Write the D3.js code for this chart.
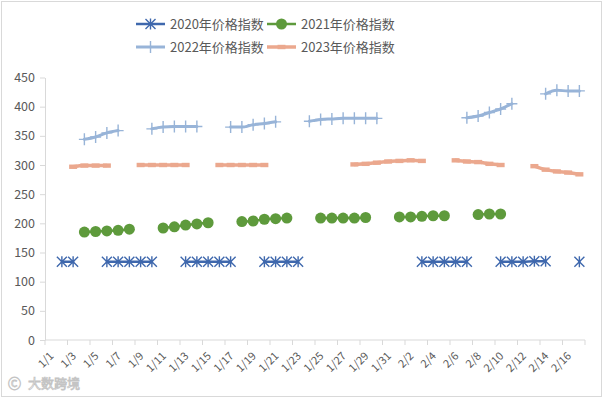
<!DOCTYPE html>
<html>
<head>
<meta charset="utf-8">
<script src="https://cdn.jsdelivr.net/npm/d3@7"></script>
<style>
  body { margin: 0; background: #fff; }
  text { font-family: "Noto Sans CJK SC", "Noto Sans", sans-serif; fill: #595959; }
</style>
</head>
<body>
<div id="chart"></div>
<script>
const categories = [
  "1/1","1/2","1/3","1/4","1/5","1/6","1/7","1/8","1/9","1/10",
  "1/11","1/12","1/13","1/14","1/15","1/16","1/17","1/18","1/19","1/20",
  "1/21","1/22","1/23","1/24","1/25","1/26","1/27","1/28","1/29","1/30",
  "1/31","2/1","2/2","2/3","2/4","2/5","2/6","2/7","2/8","2/9",
  "2/10","2/11","2/12","2/13","2/14","2/15","2/16","2/17"
];

const _ = null;
// 1/1 ... 2/17, null = no trading that day
const idx2020 = [
  _,134,134,_,_,134,134,134,134,134,
  _,_,134,134,134,134,134,_,_,134,
  134,134,134,_,_,_,_,_,_,_,
  _,_,_,134,134,134,134,134,_,_,
  134,134,134,135,135,_,_,134
];
const idx2021 = [
  _,_,_,185,186,187,188,190,_,_,
  192,194,197,199,201,_,_,203,204,207,
  208,209,_,_,209,209,209,209,210,_,
  _,211,211,212,213,213,_,_,215,216,
  216,_,_,_,_,_,_,_
];
const idx2022 = [
  _,_,_,344,348,355,359,_,_,362,
  365,366,366,366,_,_,365,365,369,371,
  374,_,_,375,378,379,380,380,380,380,
  _,_,_,_,_,_,_,381,384,390,
  396,405,_,_,422,428,427,427
];
const idx2023 = [
  _,_,297,299,299,299,_,_,300,300,
  300,300,300,_,_,300,300,300,300,300,
  _,_,_,_,_,_,_,301,302,304,
  306,307,308,307,_,_,308,306,305,302,
  300,_,_,298,292,289,287,284
];
const yTicks = [0, 50, 100, 150, 200, 250, 300, 350, 400, 450];

const series = [
  { name: "2020年价格指数", values: idx2020, color: "#3f68ad", width: 2.5, marker: "star" },
  { name: "2021年价格指数", values: idx2021, color: "#5e9a3c", width: 2.5, marker: "circle" },
  { name: "2022年价格指数", values: idx2022, color: "#98b4d8", width: 3, marker: "plus" },
  { name: "2023年价格指数", values: idx2023, color: "#eba88e", width: 3.5, marker: "dash" }
];

const width = 603, height = 398;
const margin = { top: 77.5, right: 18, bottom: 58, left: 45 };

const svg = d3.select("#chart").append("svg")
  .attr("width", width)
  .attr("height", height);

svg.append("rect")
  .attr("x", 1.5).attr("y", 1.5)
  .attr("width", 600).attr("height", 395)
  .attr("fill", "#fff")
  .attr("stroke", "#d9d9d9");

const x = d3.scaleBand()
  .domain(categories)
  .range([margin.left, width - margin.right])
  .padding(0);
const cx = c => x(c) + x.bandwidth() / 2;

const y = d3.scaleLinear()
  .domain([0, 450])
  .range([height - margin.bottom, margin.top]);

// y axis
const yAxis = svg.append("g")
  .attr("transform", `translate(${margin.left},0)`)
  .call(d3.axisLeft(y).tickValues(yTicks).tickSize(5).tickSizeOuter(0).tickPadding(5));
yAxis.select(".domain").attr("stroke", "#d9d9d9");
yAxis.selectAll(".tick line").attr("stroke", "#d9d9d9");
yAxis.selectAll("text").style("font-size", "12.5px").attr("fill", "#595959");

// x axis: line, ticks between every second category, rotated labels
const xAxis = svg.append("g")
  .attr("transform", `translate(0,${y(0)})`);
xAxis.append("line")
  .attr("x1", margin.left).attr("x2", width - margin.right)
  .attr("stroke", "#d9d9d9");
const tickCats = categories.filter((c, i) => i % 2 === 0);
xAxis.selectAll(".xt")
  .data(tickCats.map(c => x(c)).concat([x.range()[1]]))
  .join("line")
  .attr("x1", d => d).attr("x2", d => d)
  .attr("y1", 0).attr("y2", 5)
  .attr("stroke", "#d9d9d9");
xAxis.selectAll(".xl")
  .data(tickCats)
  .join("text")
  .attr("transform", c => `translate(${cx(c) + 1},${14}) rotate(-45)`)
  .attr("text-anchor", "end")
  .attr("dy", "0.35em")
  .style("font-size", "11px")
  .text(c => c);

// series
const markerPath = {
  star: "M-5,-5L5,5M-5,5L5,-5M0,-5.5L0,5.5",
  plus: "M-5.5,0L5.5,0M0,-6L0,6"
};

function drawMarker(g, s) {
  if (s.marker === "circle") {
    g.append("circle").attr("r", 5.5).attr("fill", s.color);
  } else if (s.marker === "dash") {
    g.append("rect").attr("x", -4).attr("y", -2.2).attr("width", 8).attr("height", 4.4).attr("fill", s.color);
  } else {
    g.append("path").attr("d", markerPath[s.marker])
      .attr("stroke", s.color).attr("stroke-width", 1.4).attr("fill", "none");
  }
}

const line = d3.line()
  .defined(d => d.v != null)
  .x(d => cx(d.c))
  .y(d => y(d.v))
  .curve(d3.curveMonotoneX);

series.forEach(s => {
  const pts = categories.map((c, i) => ({ c: c, v: s.values[i] }));
  const g = svg.append("g");
  g.append("path")
    .datum(pts)
    .attr("d", line)
    .attr("fill", "none")
    .attr("stroke", s.color)
    .attr("stroke-width", s.width)
    .attr("stroke-linecap", "round");
  pts.filter(d => d.v != null).forEach(d => {
    const m = g.append("g").attr("transform", `translate(${cx(d.c)},${y(d.v)})`);
    drawMarker(m, s);
  });
});

// legend
const legendPos = [
  { x: 136, y: 24 }, { x: 267, y: 24 },
  { x: 136, y: 47 }, { x: 267, y: 47 }
];
series.forEach((s, i) => {
  const p = legendPos[i];
  const lg = svg.append("g").attr("transform", `translate(${p.x},${p.y})`);
  lg.append("line")
    .attr("x1", 0).attr("x2", 29)
    .attr("stroke", s.color)
    .attr("stroke-width", s.width);
  drawMarker(lg.append("g").attr("transform", "translate(14.5,0)"), s);
  lg.append("text")
    .attr("x", 34).attr("dy", "0.35em")
    .style("font-size", "13px")
    .text(s.name);
});

// watermark
const wm = svg.append("g").attr("transform", "translate(8,383)");
wm.append("text").attr("x", 0).attr("dy", "0.35em")
  .style("font-size", "13px").style("fill", "#fff")
  .attr("stroke", "#c4c4c4").attr("stroke-width", 0.8)
  .text("Ⓒ");
wm.append("text").attr("x", 20).attr("dy", "0.35em")
  .style("font-size", "13px").style("fill", "#fff")
  .attr("stroke", "#c4c4c4").attr("stroke-width", 0.8)
  .text("大数跨境");
</script>
</body>
</html>
